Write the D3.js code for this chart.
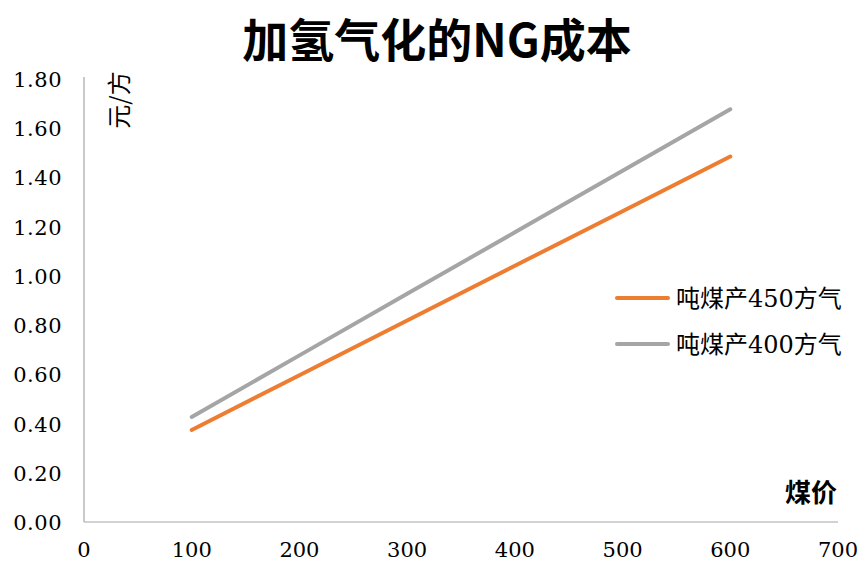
<!DOCTYPE html>
<html>
<head>
<meta charset="utf-8">
<script src="https://cdn.jsdelivr.net/npm/d3@7"></script>
<style>
  body { margin: 0; background: #fff; }
  svg text { font-family: "DejaVu Serif", "Noto Sans CJK SC", serif; fill: #000; }
</style>
</head>
<body>
<svg id="chart" width="860" height="563"></svg>
<script>
// 数据
const coalPrice = [100, 200, 300, 400, 500, 600];
const cost450 = [0.374, 0.596, 0.819, 1.041, 1.263, 1.485];
const cost400 = [0.427, 0.677, 0.927, 1.177, 1.427, 1.677];
const seriesNames = ["吨煤产450方气", "吨煤产400方气"];
const seriesColors = ["#ED7D31", "#A5A5A5"];
const xTicks = [0, 100, 200, 300, 400, 500, 600, 700];
const yTicks = [0, 0.2, 0.4, 0.6, 0.8, 1.0, 1.2, 1.4, 1.6, 1.8];

const svg = d3.select("#chart");

const x = d3.scaleLinear().domain([0, 700]).range([84, 838]);
const y = d3.scaleLinear().domain([0, 1.8]).range([522, 79]);

// 标题
svg.append("text")
  .attr("x", 437).attr("y", 57)
  .attr("text-anchor", "middle")
  .style("font-family", "'Noto Sans CJK SC', sans-serif")
  .style("font-size", "46px")
  .style("font-weight", "bold")
  .text("加氢气化的NG成本");

// 坐标轴
svg.append("line")
  .attr("x1", x(0)).attr("x2", x(0))
  .attr("y1", y(1.8) - 2).attr("y2", y(0))
  .attr("stroke", "#A6A6A6").attr("stroke-width", 1.2);
svg.append("line")
  .attr("x1", x(0)).attr("x2", x(700))
  .attr("y1", y(0)).attr("y2", y(0))
  .attr("stroke", "#A6A6A6").attr("stroke-width", 1.2);

// y 轴刻度
svg.append("g")
  .selectAll("text")
  .data(yTicks)
  .join("text")
  .attr("x", 62)
  .attr("y", d => y(d) + 8)
  .attr("text-anchor", "end")
  .style("font-size", "21px")
  .style("letter-spacing", "0.5px")
  .text(d => d3.format(".2f")(d));

// x 轴刻度
svg.append("g")
  .selectAll("text")
  .data(xTicks)
  .join("text")
  .attr("x", d => x(d))
  .attr("y", 557)
  .attr("text-anchor", "middle")
  .style("font-size", "21px")
  .text(d => d);

// 轴标题
svg.append("text")
  .attr("transform", "translate(128,100) rotate(-90)")
  .attr("text-anchor", "middle")
  .style("font-family", "'Noto Sans CJK SC', sans-serif")
  .style("font-size", "24px")
  .text("元/方");

svg.append("text")
  .attr("x", 811).attr("y", 502)
  .attr("text-anchor", "middle")
  .style("font-family", "'Noto Sans CJK SC', sans-serif")
  .style("font-size", "26px")
  .style("font-weight", "bold")
  .text("煤价");

// 折线
const line = d3.line()
  .x((d, i) => x(coalPrice[i]))
  .y(d => y(d));

[cost450, cost400].forEach((vals, i) => {
  svg.append("path")
    .datum(vals)
    .attr("d", line)
    .attr("fill", "none")
    .attr("stroke", seriesColors[i])
    .attr("stroke-width", 4)
    .attr("stroke-linecap", "round");
});

// 图例
const legend = svg.append("g")
  .selectAll("g")
  .data(seriesNames)
  .join("g")
  .attr("transform", (d, i) => `translate(617,${298 + i * 46})`);

legend.append("line")
  .attr("x1", 0).attr("x2", 51)
  .attr("stroke", (d, i) => seriesColors[i])
  .attr("stroke-width", 4)
  .attr("stroke-linecap", "round");

legend.append("text")
  .attr("x", 59).attr("y", 9)
  .style("font-size", "24px")
  .text(d => d);
</script>
</body>
</html>
